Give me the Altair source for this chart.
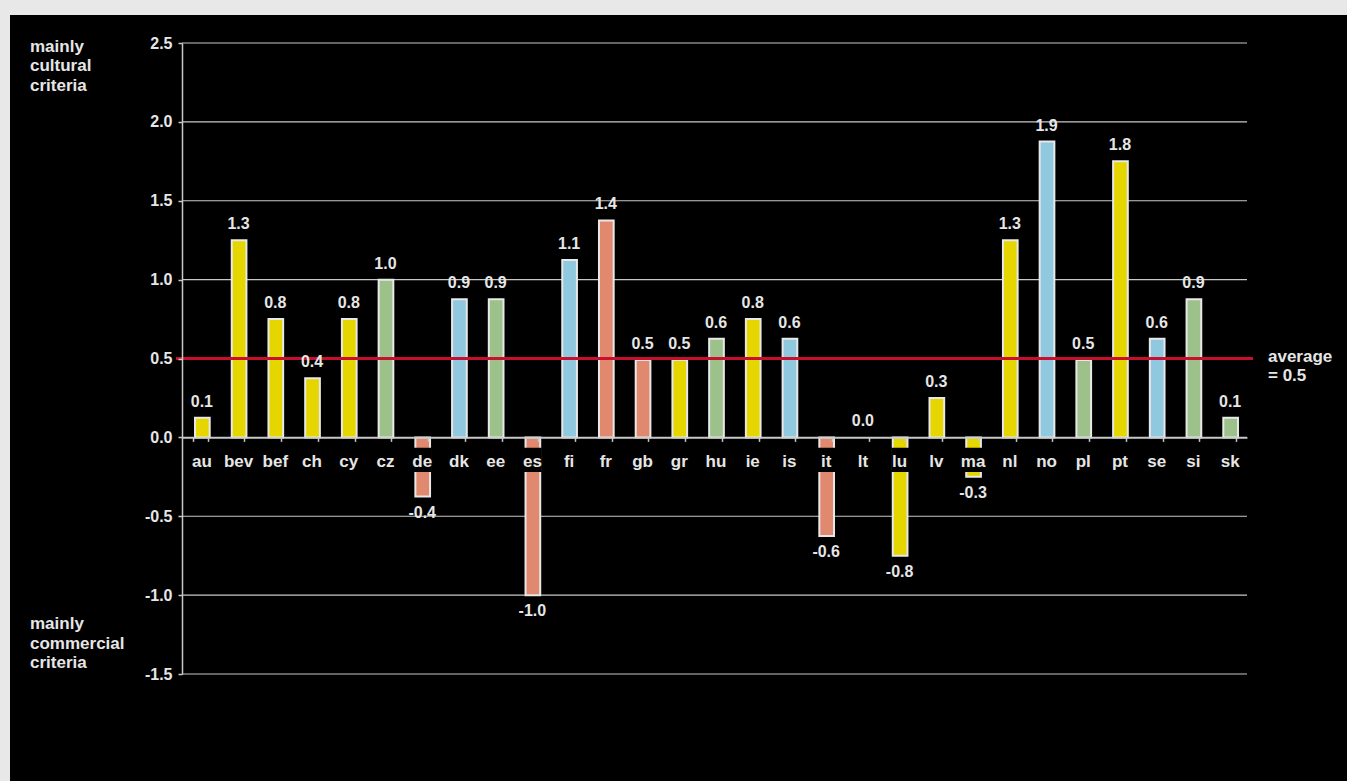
import altair as alt
import pandas as pd

# --- data -------------------------------------------------------------
countries = ["au", "bev", "bef", "ch", "cy", "cz", "de", "dk", "ee", "es",
             "fi", "fr", "gb", "gr", "hu", "ie", "is", "it", "lt", "lu",
             "lv", "ma", "nl", "no", "pl", "pt", "se", "si", "sk"]
scores = [0.125, 1.25, 0.75, 0.375, 0.75, 1.0, -0.375, 0.875, 0.875, -1.0,
          1.125, 1.375, 0.49, 0.49, 0.625, 0.75, 0.625, -0.625, 0.0, -0.75,
          0.25, -0.25, 1.25, 1.875, 0.49, 1.75, 0.625, 0.875, 0.125]
groups = ["A", "A", "A", "A", "A", "C", "D", "B", "C", "D",
          "B", "D", "D", "A", "C", "A", "B", "D", "C", "A",
          "A", "A", "A", "B", "C", "A", "B", "C", "C"]
group_names = ["A", "B", "C", "D"]
group_colors = ["#e5d600", "#90c8e0", "#9cc18b", "#e0896f"]
y_ticks = [-1.5, -1.0, -0.5, 0.0, 0.5, 1.0, 1.5, 2.0, 2.5]
average = 0.5

top_note = ["mainly", "cultural", "criteria"]
bottom_note = ["mainly", "commercial", "criteria"]
avg_note = ["average", "= 0.5"]

# --- layout -------------------------------------------------------------
W, H = 1065, 631
PAD = {"left": 182, "top": 43, "right": 100, "bottom": 107}
FONT = "Liberation Sans"
TXT = "#e6e6e6"
LINE = "#c8c8c8"
Y_MIN, Y_MAX = -1.5, 2.5

df = pd.DataFrame({"country": countries, "score": scores, "group": groups})
one = pd.DataFrame({"k": [0]})
ticks_df = pd.DataFrame({"tick": y_ticks})
avg_df = pd.DataFrame({"avg": [average]})

zero_offset = -H * (0 - Y_MIN) / (Y_MAX - Y_MIN)

x_enc = alt.X(
    "country:N", sort=countries,
    scale=alt.Scale(paddingInner=0.6, paddingOuter=0.3),
    axis=alt.Axis(title=None, labels=False, tickBand="extent", tickSize=4,
                  tickColor=LINE, tickWidth=1.5, domainColor=LINE,
                  domainWidth=1.5, offset=zero_offset, grid=False, zindex=2),
)
y_scale = alt.Scale(domain=[Y_MIN, Y_MAX], nice=False, zero=False)
y_axis = alt.Axis(
    title=None, values=y_ticks, grid=False, tickSize=4, tickColor=LINE,
    tickWidth=1.5, domainColor=LINE, domainWidth=1.5,
    labelColor=TXT, labelFont=FONT, labelFontSize=16, labelFontWeight="bold",
    labelPadding=6,
    labelExpr="datum.value < 0 ? '-' + format(-datum.value, '.1f') : format(datum.value, '.1f')",
    zindex=2,
)


def y_of(field):
    return alt.Y(field, scale=y_scale, axis=y_axis)


# black panel behind everything
panel = alt.Chart(one).mark_rect(color="black").encode(
    x=alt.value(-172), x2=alt.value(W + PAD["right"]),
    y=alt.value(-28), y2=alt.value(H + PAD["bottom"]),
)

grid = alt.Chart(ticks_df).mark_rule(color=LINE, strokeWidth=1.2).encode(
    y=y_of("tick:Q"), x=alt.value(0), x2=alt.value(W),
)

bars = alt.Chart(df).transform_filter("datum.score != 0").mark_bar(
    stroke="#e8e8e8", strokeWidth=2, xOffset=2,
).encode(
    x=x_enc,
    y=y_of("score:Q"),
    color=alt.Color("group:N", scale=alt.Scale(domain=group_names, range=group_colors), legend=None),
)

avg_line = alt.Chart(avg_df).mark_rule(color="#c8102e", strokeWidth=3).encode(
    y=y_of("avg:Q"), x=alt.value(-6), x2=alt.value(W + 6),
)

label_boxes = alt.Chart(df).transform_calculate(
    box_top="-0.075", box_bottom="-0.21"
).mark_bar(color="black", stroke="black", strokeWidth=3, xOffset=2).encode(
    x=x_enc, y=y_of("box_top:Q"), y2="box_bottom:Q",
)

cat_labels = alt.Chart(df).transform_calculate(zero="0").mark_text(
    baseline="alphabetic", dy=30, dx=1.5, font=FONT, fontSize=17,
    fontWeight="bold", color=TXT,
).encode(x=x_enc, y=y_of("zero:Q"), text="country:N")

label_expr = "datum.score < 0 ? '-' + format(-datum.score, '.1f') : format(datum.score, '.1f')"

pos_labels = alt.Chart(df).transform_filter("datum.score >= 0").transform_calculate(
    label=label_expr
).mark_text(
    baseline="alphabetic", dy=-11, dx=1.5, font=FONT, fontSize=16,
    fontWeight="bold", color=TXT,
).encode(x=x_enc, y=y_of("score:Q"), text="label:N")

neg_labels = alt.Chart(df).transform_filter("datum.score < 0").transform_calculate(
    label=label_expr
).mark_text(
    baseline="alphabetic", dy=21, dx=1.5, font=FONT, fontSize=16,
    fontWeight="bold", color=TXT,
).encode(x=x_enc, y=y_of("score:Q"), text="label:N")


def note(lines, px, py):
    return alt.Chart(one).mark_text(
        align="left", baseline="alphabetic", font=FONT, fontSize=17,
        fontWeight="bold", color=TXT, lineHeight=19.5,
    ).encode(x=alt.value(px), y=alt.value(py), text=alt.value(lines))


chart = alt.layer(
    panel, grid, bars, avg_line, label_boxes, cat_labels, pos_labels, neg_labels,
    note(top_note, -152, 8.7),
    note(bottom_note, -152, 586.3),
    note(avg_note, 1086, 318.7),
).properties(
    width=W, height=H,
    autosize=alt.AutoSizeParams(type="none"),
    padding=PAD,
    background="#e8e8e8",
).configure_view(stroke=None)

chart.save("out.html", embed_options={"renderer": "svg", "actions": False})
